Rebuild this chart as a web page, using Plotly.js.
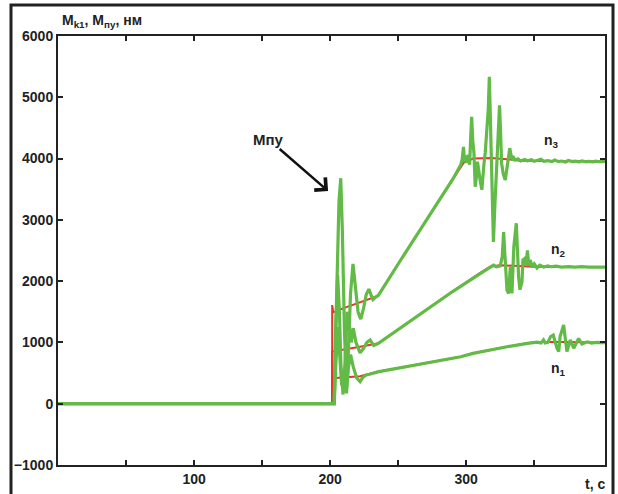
<!DOCTYPE html>
<html>
<head>
<meta charset="utf-8">
<script src="https://cdn.plot.ly/plotly-3.0.1.min.js"></script>
<style>body{margin:0;padding:0;background:#fff}#chart{width:618px;height:494px}</style>
</head>
<body>
<div id="chart"></div>
<script>
// ---- data (t in s, moment in N·m) ----
const redN3 = [[0,0],[201.5,0],[201.5,1610],[202.3,1490],[210,1560],[220,1640],[235,1760],[250,2280],[270,2970],[290,3660],[298,3930],[305,4000],[318,4010],[330,3990],[340,3965],[402,3955]];
const redN2 = [[0,0],[201.5,0],[201.5,850],[210,880],[222,930],[235.5,985],[260,1370],[290,1830],[310,2130],[318,2240],[325,2260],[340,2250],[350,2235],[402,2230]];
const redN1 = [[0,0],[201.5,0],[201.5,415],[210,425],[222,450],[235,520],[260,620],[281,713],[296,767],[305,822],[318,880],[330,930],[345,985],[352,1005],[370,1005],[402,998]];

const greenN3 = [[0,0],[203,0],[204.5,1500],[206.5,3300],[207.8,3680],[209,2800],[210.5,1200],[212,250],[213.5,900],[215,1800],[216.8,2280],[218.5,1900],[220.5,1500],[222.5,1380],[224.5,1550],[226.5,1780],[228.5,1870],[230,1780],[231.5,1700],[233.5,1740],[235.5,1770],[250,2280],[270,2970],[290,3660],[296,3900],[297,3980],[298,4190],[298.8,3940],[299.5,4050],[300.5,3930],[301.5,4060],[302.5,3900],[303.3,4350],[304,4680],[304.8,4300],[305.7,4090],[306.6,3540],[307.5,3700],[308.3,3950],[309,3810],[310.2,3650],[311.5,3490],[312.3,3750],[313,3900],[314,4100],[315,4415],[316.2,4800],[317,5335],[317.8,4600],[319,3810],[320,2640],[321,3200],[322.6,4090],[323.5,4500],[324.5,4870],[325.3,4400],[326,3925],[327.2,3750],[328.7,3650],[330.3,3900],[332,4170],[333,4050],[334,3970],[335,4010],[336,3975],[338,3995],[340,3960],[343,3985],[345,3965],[348,3980],[350,3955],[353,3975],[355,3990],[357,3955],[360,3965],[363,3950],[365,3975],[368,3950],[370,3960],[373,3945],[375,3968],[378,3950],[380,3958],[383,3945],[385,3962],[388,3948],[390,3955],[393,3945],[395,3958],[398,3948],[402,3952]];
const greenN2 = [[0,0],[203,0],[204,1200],[205.5,2100],[206.8,1500],[208,600],[209.5,150],[211,700],[212.5,1500],[214,1300],[215.5,1000],[217,1230],[219,1000],[222,830],[224.5,900],[227,1000],[229.4,1040],[232,950],[235.5,985],[260,1370],[290,1830],[310,2120],[318,2240],[320,2260],[322,2235],[325,2250],[326.5,2400],[327.5,2800],[328.5,2400],[330,1850],[331.2,1800],[332.4,2235],[333.6,1800],[335,2560],[336.8,2945],[338.5,2070],[339.5,1860],[341,1990],[341.7,2345],[343,2370],[344,2260],[345,2500],[346,2250],[347,2345],[348.5,2230],[350,2280],[352,2215],[354,2260],[357,2230],[360,2250],[362,2235],[366,2245],[370,2228],[375,2238],[380,2230],[385,2236],[390,2228],[396,2233],[402,2230]];
const greenN1 = [[0,0],[203,0],[204.3,700],[205.8,1250],[207,800],[208.5,300],[210,400],[212,170],[213.5,600],[215,800],[217,600],[219.5,420],[222,360],[224,430],[226.5,470],[229,480],[235,520],[260,620],[281,713],[296,767],[305,822],[318,880],[330,930],[345,985],[352,1005],[355,990],[356.8,1040],[358,990],[360,1000],[362,1095],[364,1120],[366.7,905],[368,850],[369,1095],[371.6,1285],[374,850],[376.5,1040],[379,905],[382.6,1065],[385,975],[389,1010],[392,990],[396,1000],[402,995]];

const xTickVals = [50,100,150,200,250,300,350];
const xTickText = ['','100','','200','','300',''];

const FONT = 'Liberation Sans, Arial, sans-serif';
const RED = '#e8342b';
const GREEN = '#62bb47';

function tr(arr, color, width){
  return {x: arr.map(p=>p[0]), y: arr.map(p=>p[1]), type:'scatter', mode:'lines',
          line:{color:color, width:width}, hoverinfo:'skip'};
}
const data = [
  tr(redN3, RED, 2), tr(redN2, RED, 2), tr(redN1, RED, 2),
  tr(greenN3, GREEN, 3.2), tr(greenN2, GREEN, 3.2), tr(greenN1, GREEN, 3.2)
];

const W=618, H=494, L=58, R=13, T=36, B=29;
const pw = W-L-R, ph = H-T-B;
const px2x = px => (px-L)/pw;
const py2y = py => (H-B-py)/ph;

const txtFont = {family: FONT, size: 14, color:'#222', weight:700};
const tickFont = {family: FONT, size: 14, color:'#222', weight:700};

const layout = {
  width: W, height: H,
  margin: {l:L, r:R, t:T, b:B, pad:0},
  paper_bgcolor:'#fff', plot_bgcolor:'#fff',
  showlegend:false,
  xaxis: {range:[0,402], tickvals:xTickVals, ticktext:xTickText, ticks:'inside', ticklen:5, tickwidth:2,
          tickcolor:'#222', showline:true, linewidth:2, linecolor:'#222', mirror:'ticks',
          showgrid:false, zeroline:false, tickfont:tickFont},
  yaxis: {range:[-1000,6000], dtick:1000, tick0:0, ticks:'inside', ticklen:5, tickwidth:2,
          tickcolor:'#222', showline:true, linewidth:2, linecolor:'#222', mirror:'ticks',
          showgrid:false, zeroline:false, tickfont:tickFont},
  shapes: [
    {type:'rect', xref:'paper', yref:'paper', x0:px2x(11), x1:px2x(613), y0:py2y(500), y1:py2y(5),
     line:{color:'#222', width:3}, fillcolor:'rgba(0,0,0,0)', layer:'above'}
  ],
  annotations: [
    {xref:'paper', yref:'paper', x:px2x(60), y:py2y(21), xanchor:'left', yanchor:'middle', showarrow:false,
     text:'M<sub>k1</sub>, M<sub>пу</sub>, нм', font:txtFont},
    {xref:'paper', yref:'paper', x:px2x(607), y:py2y(484), xanchor:'right', yanchor:'middle', showarrow:false,
     text:'t, с', font:txtFont},
    {x:198.5, y:3470, xref:'x', yref:'y', text:'Mпу', font:{family:FONT, size:15, color:'#222', weight:700}, showarrow:true,
     ax:-60, ay:-52, arrowhead:4, arrowsize:1.3, arrowwidth:2.5, arrowcolor:'#111'},
    {x:363, y:4280, xref:'x', yref:'y', text:'n<sub>3</sub>', showarrow:false, font:txtFont},
    {x:367.6, y:2505, xref:'x', yref:'y', text:'n<sub>2</sub>', showarrow:false, font:txtFont},
    {x:367.6, y:566, xref:'x', yref:'y', text:'n<sub>1</sub>', showarrow:false, font:txtFont}
  ]
};

Plotly.newPlot('chart', data, layout, {displayModeBar:false, staticPlot:true});
</script>
</body>
</html>
